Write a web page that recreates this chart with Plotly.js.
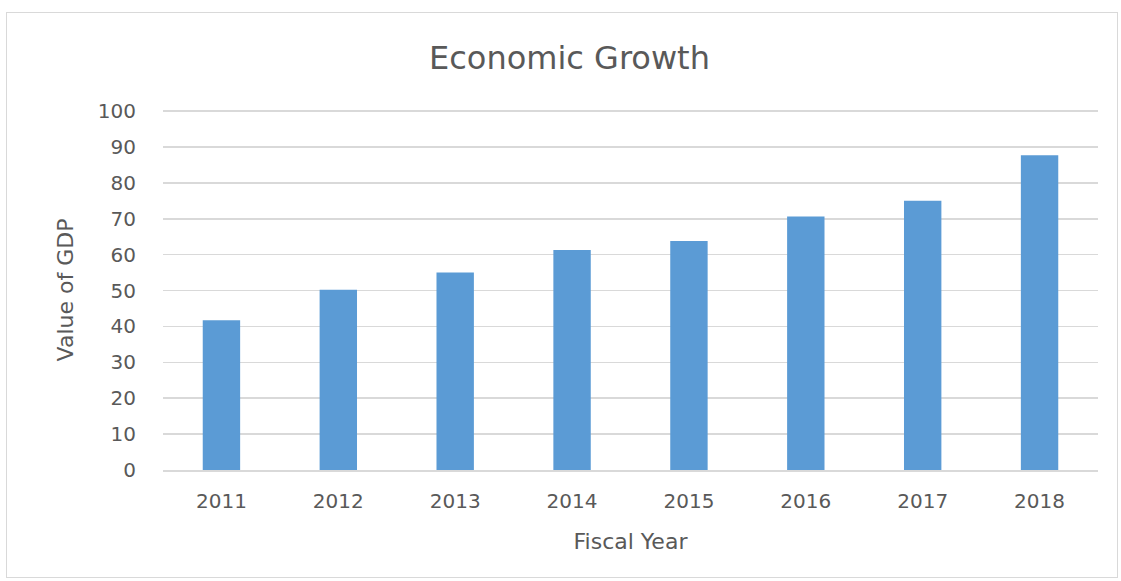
<!DOCTYPE html>
<html>
<head>
<meta charset="utf-8">
<script src="https://cdn.plot.ly/plotly-3.0.1.min.js"></script>
<style>
html,body{margin:0;padding:0;background:#fff;}
#wrap{position:relative;width:1121px;height:581px;}
#chart{width:1121px;height:581px;}
#frame{position:absolute;left:6px;top:12px;width:1112px;height:566px;border:1.5px solid #d9d9d9;pointer-events:none;box-sizing:border-box;}
</style>
</head>
<body>
<div id="wrap"><div id="chart"></div><div id="frame"></div></div>
<script>
const years = ["2011","2012","2013","2014","2015","2016","2017","2018"];
const gdp = [41.7, 50.2, 55, 61.3, 63.8, 70.6, 75, 87.7];
const yTicks = [0,10,20,30,40,50,60,70,80,90,100];

const textColor = "#595959";
const fontFam = "DejaVu Sans, sans-serif";

Plotly.newPlot("chart", [{
  type: "bar",
  x: years,
  y: gdp,
  marker: {color: "#5B9BD5"},
  hoverinfo: "x+y"
}], {
  width: 1121, height: 581,
  paper_bgcolor: "#fff", plot_bgcolor: "#fff",
  margin: {l: 163, r: 23, t: 110, b: 110.5},
  bargap: 0.68,
  showlegend: false,
  title: {text: "Economic Growth", font: {family: fontFam, size: 32, color: textColor}, x: 0.508, xanchor: "center", y: 0.9, yanchor: "middle"},
  xaxis: {
    type: "category",
    tickfont: {family: fontFam, size: 20, color: textColor},
    showgrid: false, showline: true, linecolor: "#d9d9d9", linewidth: 1.5,
    ticks: "", ticklabelstandoff: 12,
    title: {text: "Fiscal Year", font: {family: fontFam, size: 22, color: textColor}, standoff: 22}
  },
  yaxis: {
    range: [0, 100.3], tickvals: yTicks,
    tickfont: {family: fontFam, size: 20, color: textColor},
    showgrid: true, gridcolor: "#d9d9d9", gridwidth: 1.5,
    zeroline: false, showline: false, ticks: "", ticklabelstandoff: 26,
    title: {text: "Value of GDP", font: {family: fontFam, size: 22, color: textColor}, standoff: 18}
  }
}, {displayModeBar: false, staticPlot: true});
</script>
</body>
</html>
